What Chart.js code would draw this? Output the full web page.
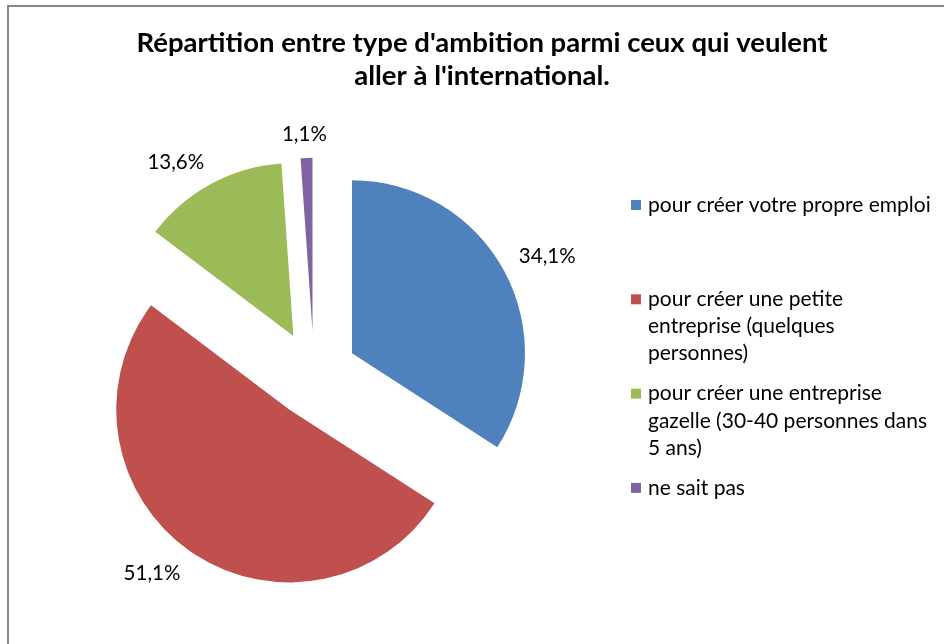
<!DOCTYPE html>
<html><head><meta charset="utf-8">
<script src="https://cdn.jsdelivr.net/npm/chart.js@4/dist/chart.umd.min.js"></script>
<style>
html,body{margin:0;padding:0;background:#fff;}
#wrap{position:relative;width:944px;height:644px;overflow:hidden;background:#fff;}
#frame{position:absolute;left:7px;top:5px;width:1000px;height:700px;border-left:2px solid #878787;border-top:2px solid #878787;}
canvas{position:absolute;left:0;top:0;}
</style></head><body>
<div id="wrap"><div id="frame"></div><canvas id="c" width="944" height="644"></canvas></div>
<script>
// ---- data ----
const titleLines = ["Répartition entre type d'ambition parmi ceux qui veulent", "aller à l'international."];
const categories = [
  ["pour créer votre propre emploi"],
  ["pour créer une petite", "entreprise (quelques", "personnes)"],
  ["pour créer une entreprise", "gazelle (30-40 personnes dans", "5 ans)"],
  ["ne sait pas"]
];
const values = [34.1, 51.1, 13.6, 1.1];
const colors = ["#4F81BD", "#C0504D", "#9BBB59", "#8064A2"];

// ---- style ----
const FAMILY = "Lato, 'Open Sans', sans-serif";
const EXPLODE = 0.25;
const TITLE_SIZE = 27.5;
const LEG_SIZE = 21;
const LAB_SIZE = 20.5;

const fmt = v => v.toFixed(1).replace('.', ',') + '%';

const explodePlugin = {
  id: 'explode',
  afterUpdate(chart) {
    chart.getDatasetMeta(0).data.forEach(arc => {
      const mid = (arc.startAngle + arc.endAngle) / 2;
      const d = arc.outerRadius * EXPLODE;
      arc.x += Math.cos(mid) * d;
      arc.y += Math.sin(mid) * d;
    });
  }
};

const clamp = v => Math.max(-1, Math.min(1, v));

const labelPlugin = {
  id: 'pctLabels',
  afterDatasetsDraw(chart) {
    const ctx = chart.ctx;
    ctx.save();
    ctx.font = LAB_SIZE + 'px ' + FAMILY;
    ctx.fillStyle = '#000';
    ctx.textAlign = 'center';
    ctx.textBaseline = 'alphabetic';
    chart.getDatasetMeta(0).data.forEach((arc, i) => {
      const mid = (arc.startAngle + arc.endAngle) / 2;
      const ux = Math.cos(mid), uy = Math.sin(mid);
      const t = fmt(values[i]);
      const w = ctx.measureText(t).width, h = LAB_SIZE * 0.72;
      const r = arc.outerRadius + 17;
      const cx = arc.x + ux * r + clamp(ux * 2) * w / 2;
      const cy = arc.y + uy * r + clamp(uy * 2) * h / 2;
      ctx.fillText(t, cx, cy + h / 2);
    });
    ctx.restore();
  }
};

const decorPlugin = {
  id: 'decor',
  afterDraw(chart) {
    const ctx = chart.ctx;
    ctx.save();
    ctx.fillStyle = '#000';
    ctx.textAlign = 'center';
    ctx.textBaseline = 'alphabetic';
    ctx.font = 'bold ' + TITLE_SIZE + 'px ' + FAMILY;
    titleLines.forEach((l, i) => ctx.fillText(l, 482, 52 + i * 33));
    // legend
    ctx.textAlign = 'left';
    ctx.textBaseline = 'middle';
    ctx.font = LEG_SIZE + 'px ' + FAMILY;
    categories.forEach((lines, i) => {
      const y0 = 205 + i * 94.3;
      ctx.fillStyle = colors[i];
      ctx.fillRect(631, y0 - 5, 10, 10);
      ctx.fillStyle = '#000';
      lines.forEach((l, j) => ctx.fillText(l, 648, y0 + j * 27.2));
    });
    ctx.restore();
  }
};

new Chart(document.getElementById('c'), {
  type: 'pie',
  data: {
    labels: categories.map(c => c.join(' ')),
    datasets: [{ data: values, backgroundColor: colors, borderWidth: 0 }]
  },
  options: {
    responsive: false,
    animation: false,
    events: [],
    layout: { padding: { left: 141, right: 457, top: 201, bottom: 97 } },
    plugins: { legend: { display: false }, title: { display: false }, tooltip: { enabled: false } }
  },
  plugins: [explodePlugin, labelPlugin, decorPlugin]
});
</script>
</body></html>
